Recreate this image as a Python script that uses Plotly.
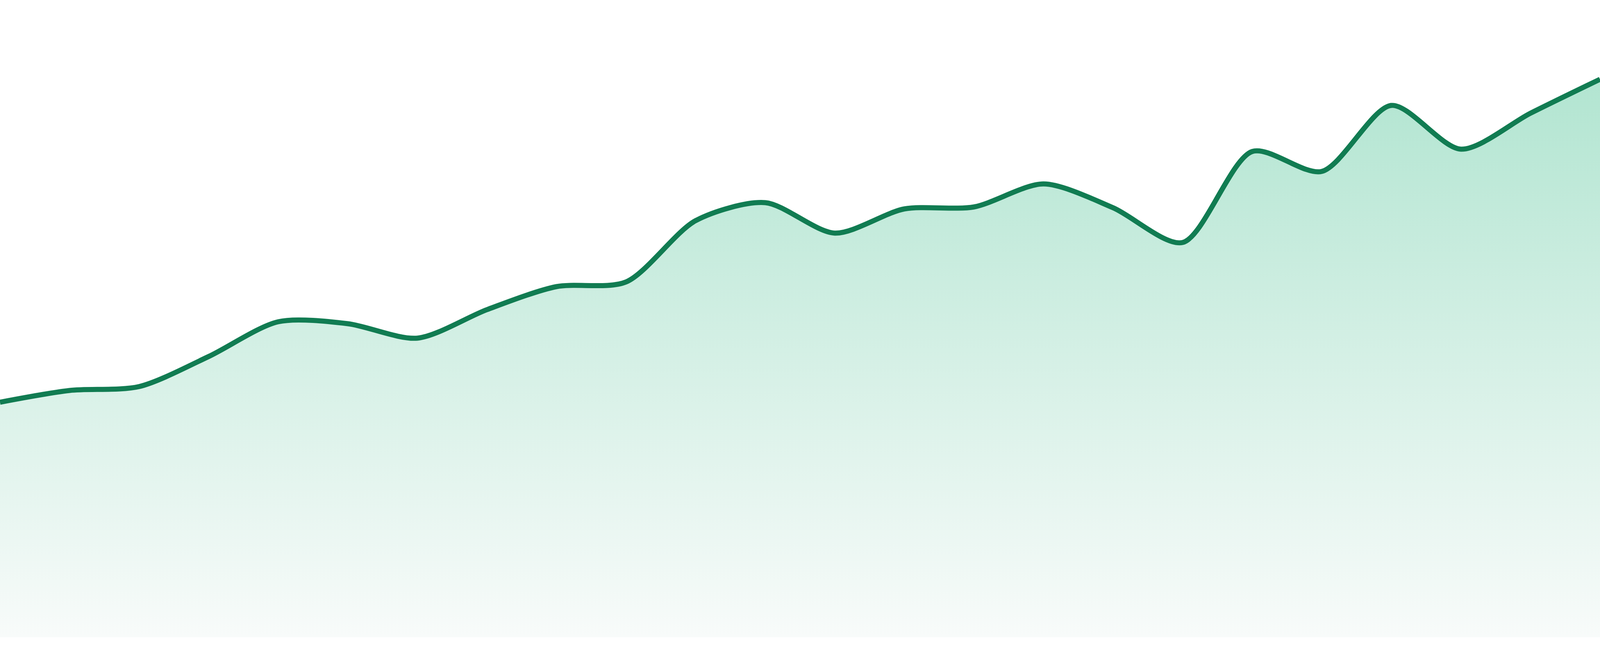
import plotly.graph_objects as go

# hourly readings
hours = [f"{h:02d}:00" for h in range(24)]
values = [60.2, 63.2, 64.2, 71.9, 80.8, 80.3, 76.6, 83.9, 89.8, 91.0, 106.7, 111.3,
          103.5, 109.7, 110.2, 116.1, 110.0, 101.1, 124.4, 119.3, 136.2, 125.0, 134.2, 142.9]

line_color = "#117c52"
fill_top = "#b2e5d1"
fill_bottom = "#f8fbfa"

fig = go.Figure()
fig.add_trace(go.Scatter(
    x=hours, y=values,
    mode="lines",
    line=dict(color=line_color, width=13, shape="spline", smoothing=0.8),
    fill="tozeroy",
    fillgradient=dict(type="vertical", start=0, stop=max(values),
                      colorscale=[[0, fill_bottom], [1, fill_top]]),
    hoverinfo="skip",
))

# no fixed size: let the chart fill the browser window
fig.update_layout(
    autosize=True,
    margin=dict(l=0, r=0, t=0, b=0),
    paper_bgcolor="white", plot_bgcolor="white",
    showlegend=False,
    xaxis=dict(visible=False, range=[0, len(hours) - 1]),
    yaxis=dict(visible=False, range=[-4.8, 163.2]),
)

fit_page = (
    "document.body.style.margin='0';"
    "document.body.style.overflow='hidden';"
    "Plotly.Plots.resize(document.getElementById('{plot_id}'));"
)

fig.write_html("out.html", default_width="100vw", default_height="100vh",
               config={"responsive": True, "displayModeBar": False},
               post_script=fit_page)
